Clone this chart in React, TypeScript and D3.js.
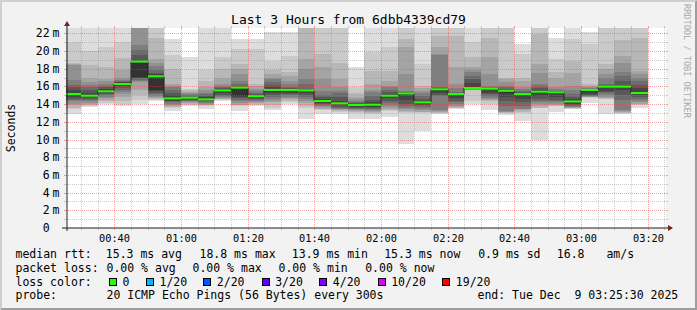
import React, { useLayoutEffect } from "react";
import * as d3 from "d3";

// ---------- data ----------
const startTime = new Date(2025, 11, 9, 0, 25, 30);
const endTime = new Date(2025, 11, 9, 3, 25, 30);
const firstBarEnd = new Date(2025, 11, 9, 0, 30, 0);
const stepSeconds = 300;

// median RTT per 5-minute step (ms)
const medians = [
  15.14, 14.95, 15.45, 16.27, 18.8, 17.14, 14.65, 14.73, 14.54, 15.55, 15.86, 14.9,
  15.6, 15.6, 15.55, 14.35, 14.09, 13.9, 13.93, 14.95, 15.2, 14.2, 15.67, 15.14,
  15.82, 15.74, 15.5, 15.14, 15.4, 15.33, 14.3, 15.6, 15.97, 15.97, 15.25,
];

// 20 sorted ping times per step (ms)
const pings: number[][] = [
  [12.85, 13.4, 13.6, 13.85, 14.0, 14.3, 14.45, 14.6, 14.8, 15.0, 15.25, 15.6, 15.9, 16.2, 16.7, 18.4, 18.5, 18.6, 21.0, 24],
  [13.7, 13.8, 13.9, 14.0, 14.15, 14.3, 14.45, 14.6, 14.75, 14.9, 15.05, 15.3, 15.6, 15.9, 16.2, 16.5, 16.9, 18.4, 20.0, 23.5],
  [14.0, 14.1, 14.3, 14.5, 14.7, 14.85, 15.0, 15.1, 15.25, 15.35, 15.55, 15.75, 15.95, 16.1, 16.3, 16.6, 16.8, 18.2, 20.4, 23.5],
  [13.75, 14.0, 14.4, 14.8, 15.1, 15.4, 15.6, 15.8, 16.0, 16.2, 16.35, 16.45, 16.55, 16.6, 16.7, 17.0, 17.85, 19.2, 21.0, 23.5],
  [14.0, 14.5, 15.0, 15.6, 16.5, 16.6, 16.75, 16.9, 17.0, 17.1, 18.9, 19.0, 19.5, 20.1, 20.7, 23.0, 23.5, 24.0, 24.5, 25.0],
  [14.3, 14.5, 14.6, 14.7, 14.8, 14.9, 15.1, 15.3, 15.5, 15.65, 17.2, 17.4, 17.55, 17.8, 18.3, 18.6, 19.1, 21.5, 23.5, 24.0],
  [13.2, 13.55, 13.65, 13.75, 13.9, 14.05, 14.2, 14.3, 14.4, 14.55, 14.75, 15.0, 15.3, 15.6, 15.9, 16.1, 16.3, 18.0, 19.5, 21.35],
  [13.8, 13.9, 14.0, 14.1, 14.2, 14.3, 14.4, 14.5, 14.6, 14.7, 14.78, 14.85, 14.95, 15.05, 15.15, 15.3, 15.4, 15.55, 15.7, 19.3],
  [13.5, 13.75, 13.85, 13.95, 14.05, 14.15, 14.25, 14.35, 14.45, 14.52, 14.65, 14.8, 14.95, 15.1, 15.3, 15.6, 15.9, 16.6, 17.8, 23.0],
  [14.3, 14.5, 14.55, 14.6, 14.7, 14.8, 14.9, 15.0, 15.2, 15.45, 15.6, 15.68, 15.78, 15.9, 16.1, 16.3, 17.0, 18.0, 19.3, 23.0],
  [13.2, 13.8, 13.85, 13.95, 14.1, 14.3, 14.5, 14.7, 14.85, 14.95, 15.9, 15.95, 16.1, 16.3, 16.65, 17.4, 18.0, 18.5, 20.2, 21.35],
  [13.8, 13.95, 14.05, 14.15, 14.25, 14.35, 14.45, 14.55, 14.7, 14.85, 14.95, 15.0, 15.1, 15.3, 15.5, 15.7, 16.0, 16.3, 20.2, 21.35],
  [13.3, 13.6, 13.9, 14.2, 14.4, 14.6, 14.8, 15.0, 15.2, 15.4, 15.7, 15.9, 16.2, 16.46, 16.8, 17.0, 17.4, 17.8, 18.9, 22.1],
  [14.0, 14.2, 14.4, 14.55, 14.7, 14.85, 15.0, 15.15, 15.3, 15.45, 15.65, 15.72, 15.8, 15.9, 16.3, 16.65, 17.2, 17.6, 19.47, 22.2],
  [12.3, 13.6, 13.8, 14.1, 14.4, 14.6, 14.8, 15.0, 15.2, 15.5, 15.6, 15.65, 15.7, 16.27, 16.8, 17.97, 19.1, 23.0, 23.5, 24.0],
  [12.9, 13.3, 13.4, 13.5, 13.7, 13.8, 13.9, 14.0, 14.15, 14.3, 14.4, 14.6, 14.8, 15.0, 15.5, 16.8, 18.15, 19.66, 23.0, 23.5],
  [12.85, 13.1, 13.2, 13.3, 13.4, 13.5, 13.6, 13.7, 13.85, 14.0, 14.15, 14.4, 14.8, 15.2, 15.5, 15.9, 16.8, 18.7, 23.0, 23.5],
  [12.3, 13.0, 13.1, 13.2, 13.3, 13.4, 13.5, 13.6, 13.7, 13.8, 13.95, 14.0, 14.1, 14.2, 14.4, 14.6, 14.77, 15.2, 15.9, 18.15],
  [12.3, 12.9, 13.05, 13.15, 13.25, 13.35, 13.5, 13.6, 13.7, 13.85, 14.0, 14.2, 14.5, 14.9, 15.33, 15.6, 16.27, 17.78, 19.85, 23.0],
  [12.5, 13.2, 13.3, 13.5, 13.7, 13.9, 14.1, 14.4, 14.7, 14.9, 15.0, 15.1, 15.33, 15.6, 15.9, 16.1, 16.65, 17.78, 20.4, 23.0],
  [9.5, 13.0, 13.07, 13.2, 13.4, 13.6, 13.8, 14.0, 14.5, 15.0, 15.2, 15.25, 15.33, 15.4, 15.5, 17.4, 20.4, 21.35, 23.0, 23.5],
  [11.0, 13.0, 13.07, 13.15, 13.3, 13.5, 13.7, 13.85, 13.95, 14.1, 14.25, 14.4, 14.6, 14.9, 15.2, 15.5, 15.8, 16.08, 18.53, 23.0],
  [12.88, 12.95, 13.0, 13.1, 13.2, 13.3, 14.9, 15.0, 15.2, 15.5, 15.7, 15.75, 15.8, 15.9, 19.6, 19.7, 20.5, 21.7, 23.5, 24.0],
  [13.45, 13.55, 13.6, 13.7, 13.8, 14.0, 14.2, 14.4, 14.7, 15.0, 15.17, 15.2, 15.25, 15.33, 15.8, 16.27, 18.15, 21.7, 23.5, 24.0],
  [14.0, 14.4, 15.6, 15.62, 15.65, 15.68, 15.7, 15.73, 15.76, 15.8, 16.0, 16.4, 16.8, 17.2, 17.6, 17.8, 18.15, 19.3, 21.0, 23.0],
  [13.3, 14.0, 14.3, 14.45, 14.55, 14.65, 14.9, 15.1, 15.3, 15.55, 15.77, 15.8, 15.85, 15.9, 16.1, 17.4, 19.3, 21.5, 23.5, 24.0],
  [12.8, 12.95, 13.0, 13.07, 13.12, 13.2, 13.8, 14.3, 14.8, 15.3, 15.55, 15.6, 15.7, 15.9, 16.1, 16.5, 16.8, 17.0, 23.5, 24.0],
  [12.05, 13.05, 13.1, 13.3, 13.4, 13.5, 13.8, 14.2, 14.6, 15.0, 15.2, 15.3, 15.4, 15.5, 15.7, 15.9, 16.6, 17.0, 19.66, 20.8],
  [10.0, 13.55, 13.6, 13.8, 14.0, 14.2, 14.4, 14.6, 14.9, 15.2, 15.45, 15.6, 15.8, 16.0, 16.27, 17.5, 18.53, 21.9, 23.5, 24.0],
  [13.07, 13.75, 13.8, 13.9, 14.0, 14.2, 14.4, 14.5, 14.8, 15.1, 15.35, 15.4, 15.45, 15.5, 15.7, 15.9, 17.0, 17.6, 19.1, 21.5],
  [13.45, 13.5, 13.55, 13.6, 13.65, 13.7, 13.8, 13.9, 14.0, 14.2, 14.35, 14.58, 14.8, 15.1, 15.6, 16.08, 17.5, 18.9, 21.35, 23.0],
  [14.1, 14.7, 14.75, 14.8, 14.85, 14.9, 14.95, 15.0, 15.1, 15.4, 15.62, 15.65, 15.7, 15.75, 15.8, 15.9, 16.1, 16.27, 20.8, 22.2],
  [12.88, 14.55, 14.6, 14.65, 14.8, 15.0, 15.2, 15.33, 15.5, 15.8, 16.0, 16.05, 16.15, 16.27, 17.0, 17.4, 18.0, 18.53, 23.5, 24.0],
  [12.88, 12.95, 13.0, 13.1, 13.2, 13.3, 14.5, 15.0, 15.6, 15.9, 16.0, 16.08, 16.6, 17.2, 17.6, 18.7, 19.47, 21.2, 23.5, 24.0],
  [13.6, 13.95, 14.0, 14.05, 14.2, 14.4, 14.6, 14.8, 15.0, 15.2, 15.4, 15.8, 16.2, 16.6, 17.0, 17.4, 17.78, 21.5, 23.5, 24.0],
];

const yMax = 22.6;
const yTickValues = [0, 2, 4, 6, 8, 10, 12, 14, 16, 18, 20, 22];
const xTickLabels = ["00:40", "01:00", "01:20", "01:40", "02:00", "02:20", "02:40", "03:00", "03:20"];

const title = "Last 3 Hours from 6dbb4339cd79";
const yLabel = "Seconds";
const watermark = "RRDTOOL / TOBI OETIKER";

const rttLabels = ["15.3 ms avg", "18.8 ms max", "13.9 ms min", "15.3 ms now", "0.9 ms sd", "16.8", "am/s"];
const lossLabels = ["0.00 % avg", "0.00 % max", "0.00 % min", "0.00 % now"];
const lossColorNames = ["0", "1/20", "2/20", "3/20", "4/20", "10/20", "19/20"];
const lossColors = ["#26ff00", "#00b8ff", "#0059ff", "#5e00ff", "#7e00ff", "#dd00ff", "#ff0000"];
const probeText = "20 ICMP Echo Pings (56 Bytes) every 300s";
const endText = "end: Tue Dec\u00a0\u00a09 03:25:30 2025";

// ---------- layout ----------
const W = 697;
const H = 310;
const PL = 66, PR = 666, PT = 28, PB = 228;
const MONO = "'DejaVu Sans Mono', monospace";

const x = d3.scaleTime().domain([startTime, endTime]).range([PL, PR]);
const y = d3.scaleLinear().domain([0, yMax]).range([PB, PT]);

const rttX = [105.8, 199.5, 291.8, 384.2, 478.2, 556.8, 606.4];
const lossX = [106.5, 192.5, 278.5, 365.2];
const swatchX = [109, 146, 203.3, 261.7, 319.3, 377.7, 442.3];

export default function App() {
  useLayoutEffect(() => {
    document.body.style.margin = "0";
  }, []);

  const bars = medians.map((m, i) => {
    const end = d3.timeSecond.offset(firstBarEnd, i * stepSeconds);
    const start = d3.timeSecond.offset(end, -stepSeconds);
    return { m, p: pings[i], x0: Math.round(x(start)), x1: Math.round(x(end)) };
  });

  const smokeBands = d3.range(1, 11).map((ibot) => {
    const g = Math.floor((190 / 10) * (10 - ibot)) + 50;
    return { ibot, color: d3.rgb(g, g, g).formatHex() };
  });

  const sw = yMax / (PB - PT);

  const medPts: [number, number][] = [];
  bars.forEach((b) => {
    medPts.push([b.x0, y(b.m)]);
    medPts.push([b.x1, y(b.m)]);
  });
  const medLine = d3.line()(medPts) || "";

  const minorTimes = d3.timeMinute.every(5)!.range(startTime, endTime);
  const majorTimes = xTickLabels.map((l) => {
    const [hh, mm] = l.split(":").map(Number);
    return new Date(2025, 11, 9, hh, mm, 0);
  });
  const isMajorTime = (t: Date) => t.getMinutes() % 20 === 0;

  const minorVals = d3.range(1, 23);

  const gridMinor = "rgba(143,143,143,0.45)";
  const gridMajor = "rgba(222,80,80,0.5)";
  const rowY = [258.3, 271.8, 285.5, 299];

  return (
    <svg width={W} height={H} style={{ display: "block" }} fontFamily={MONO}>
      <defs>
        <clipPath id="plotclip">
          <rect x={PL} y={PT} width={PR - PL} height={PB - PT} />
        </clipPath>
      </defs>
      {/* background & border */}
      <rect x={0} y={0} width={W} height={H} fill="#f2f2f2" />
      <polygon points={`0,0 ${W},0 ${W - 2},2 2,2 2,${H - 2} 0,${H}`} fill="#cfcfcf" />
      <polygon points={`${W},0 ${W},${H} 0,${H} 2,${H - 2} ${W - 2},${H - 2} ${W - 2},2`} fill="#9e9e9e" />
      <rect x={PL} y={PT} width={PR - PL} height={PB - PT} fill="#ffffff" />

      {/* smoke */}
      <g clipPath="url(#plotclip)" shapeRendering="crispEdges">
        {smokeBands.map((band) =>
          bars.map((b, i) => {
            const lo = b.p[band.ibot - 1];
            const hi = b.p[20 - band.ibot];
            return (
              <rect
                key={`s${band.ibot}-${i}`}
                x={b.x0}
                width={b.x1 - b.x0}
                y={y(hi)}
                height={y(lo) - y(hi)}
                fill={band.color}
              />
            );
          })
        )}
      </g>

      {/* grid */}
      <g>
        {minorVals.map((v) => {
          const yy = Math.round(y(v)) + 0.5;
          const major = v % 2 === 0;
          return (
            <g key={`h${v}`}>
              <line x1={PL} x2={PR} y1={yy} y2={yy} stroke={major ? gridMajor : gridMinor} strokeDasharray="1,1" />
              <line x1={PL - 2} x2={PL} y1={yy} y2={yy} stroke={major ? gridMajor : gridMinor} />
              <line x1={PR} x2={PR + 2} y1={yy} y2={yy} stroke={major ? gridMajor : gridMinor} />
            </g>
          );
        })}
        {minorTimes.map((t, i) => {
          const xx = Math.round(x(t)) + 0.5;
          const major = isMajorTime(t);
          return (
            <g key={`v${i}`}>
              <line x1={xx} x2={xx} y1={PT} y2={PB} stroke={major ? gridMajor : gridMinor} strokeDasharray="1,1" />
              <line x1={xx} x2={xx} y1={PB} y2={PB + 2} stroke={major ? gridMajor : gridMinor} />
              <line x1={xx} x2={xx} y1={PT - 2} y2={PT} stroke={major ? gridMajor : gridMinor} />
            </g>
          );
        })}
      </g>

      {/* median */}
      <g clipPath="url(#plotclip)">
        <path d={medLine} fill="none" stroke="#202020" strokeWidth={1} />
        {bars.map((b, i) => (
          <rect key={`m${i}`} x={b.x0} width={b.x1 - b.x0} y={y(b.m + sw)} height={y(b.m - sw) - y(b.m + sw)} fill={lossColors[0]} />
        ))}
      </g>

      {/* axes */}
      <line x1={PL - 4} x2={PR + 6} y1={PB} y2={PB} stroke="#1f1f1f" strokeWidth={1} />
      <line x1={PL + 1} x2={PL + 1} y1={PB + 3} y2={PT - 5} stroke="#1f1f1f" strokeWidth={1} />
      <polygon points={`${PL - 2},${PT - 2} ${PL + 4},${PT - 2} ${PL + 1},${PT - 7}`} fill="#801f1f" />
      <polygon points={`${PR + 2},${PB - 3} ${PR + 2},${PB + 3} ${PR + 7},${PB}`} fill="#801f1f" />

      {/* y labels */}
      {yTickValues.map((v) => (
        <g key={`yl${v}`} fontSize={11.5} fill="#000">
          <text x={49.6} y={y(v) + 4} textAnchor="end">{v}</text>
          {v > 0 && <text x={52.6} y={y(v) + 4}>m</text>}
        </g>
      ))}

      {/* x labels */}
      {majorTimes.map((t, i) => (
        <text key={`xl${i}`} x={Math.round(x(t)) + 0.5} y={242} textAnchor="middle" fontSize={10.3} fill="#000">
          {xTickLabels[i]}
        </text>
      ))}

      {/* title & side labels */}
      <text x={348.5} y={24} textAnchor="middle" fontSize={13} fill="#000">{title}</text>
      <text transform="translate(15,128) rotate(-90)" textAnchor="middle" fontSize={11.5} fill="#000">{yLabel}</text>
      <text transform="translate(684,4) rotate(90)" fontSize={8.6} fill="#ababab">{watermark}</text>

      {/* legend */}
      <g fontSize={11.5} fill="#000">
        <text x={15.5} y={rowY[0]}>median rtt:</text>
        {rttLabels.map((l, i) => (
          <text key={`r${i}`} x={rttX[i]} y={rowY[0]}>{l}</text>
        ))}
        <text x={15.5} y={rowY[1]}>packet loss:</text>
        {lossLabels.map((l, i) => (
          <text key={`p${i}`} x={lossX[i]} y={rowY[1]}>{l}</text>
        ))}
        <text x={15.5} y={rowY[2]}>loss color:</text>
        {lossColorNames.map((l, i) => (
          <g key={`c${i}`}>
            <rect x={swatchX[i] + 0.5} y={278.5} width={7} height={7} fill={lossColors[i]} stroke="#000" strokeWidth={1} shapeRendering="crispEdges" />
            <text x={swatchX[i] + 13.5} y={rowY[2]}>{l}</text>
          </g>
        ))}
        <text x={15.5} y={rowY[3]}>probe:</text>
        <text x={106.5} y={rowY[3]}>{probeText}</text>
        <text x={477.5} y={rowY[3]}>{endText}</text>
      </g>
    </svg>
  );
}
